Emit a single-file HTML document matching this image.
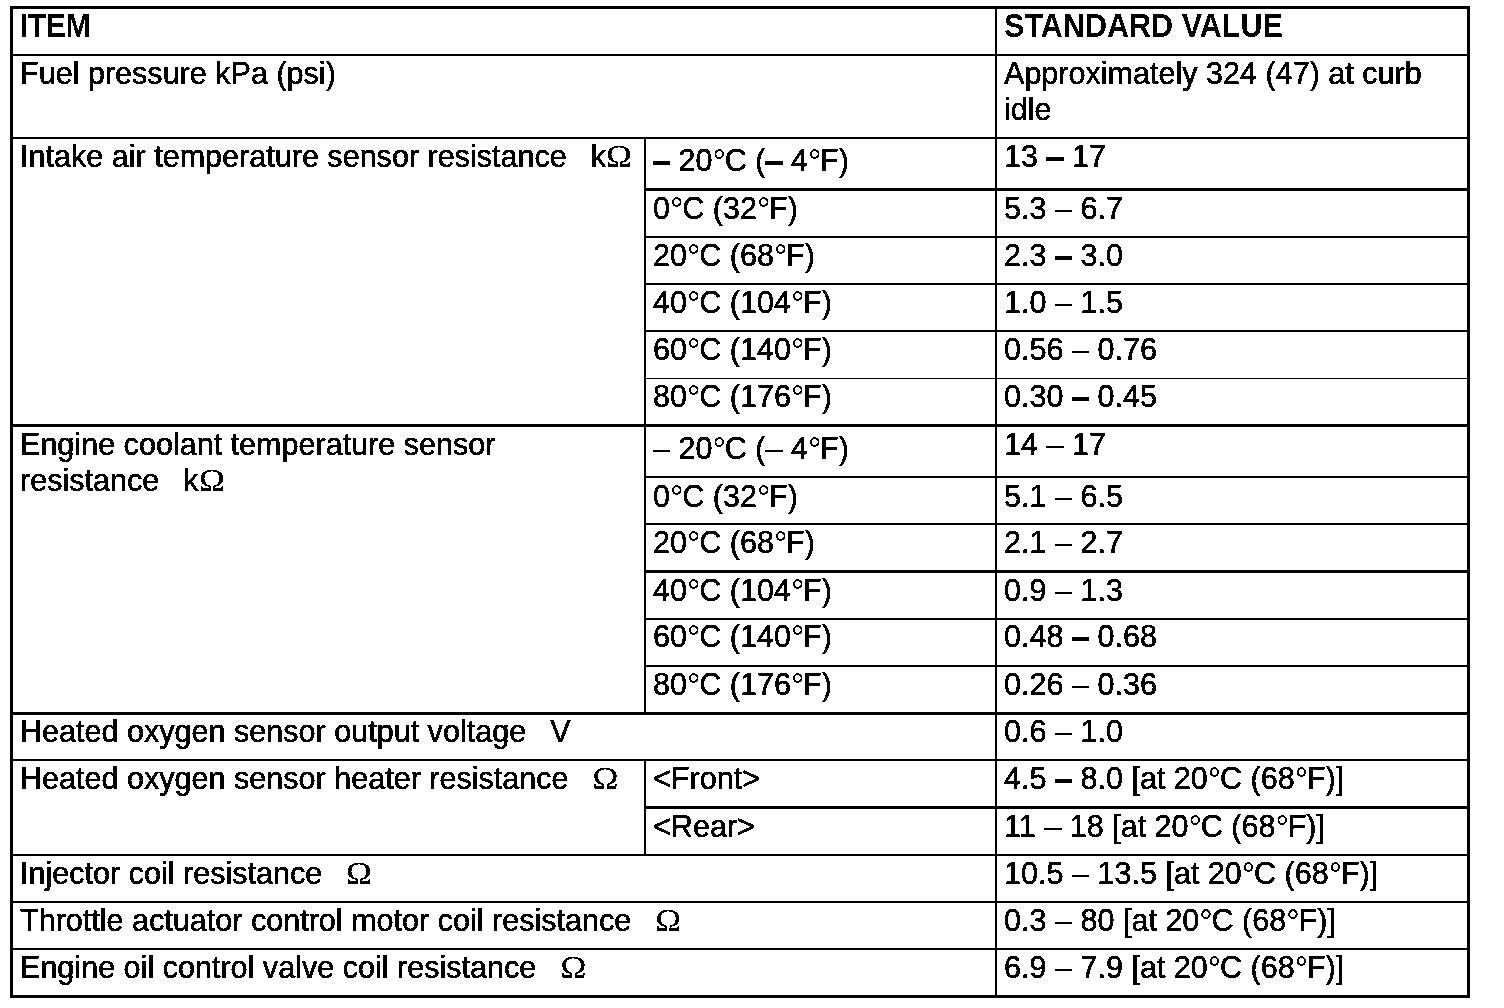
<!DOCTYPE html>
<html lang="en">
<head>
<meta charset="utf-8">
<title>Standard values</title>
<style>
html,body{margin:0;padding:0;background:#fff;}
body{width:1504px;height:1008px;position:relative;overflow:hidden;font-family:"Liberation Sans",sans-serif;color:#000;}
.l{position:absolute;background:#000;}
.t{position:absolute;white-space:pre;font-size:31.6px;line-height:36px;height:36px;transform-origin:0 0;transform:scaleX(0.967);-webkit-text-stroke:0.3px #000;}
.b{font-weight:bold;font-size:32.5px;transform:scaleX(0.94);-webkit-text-stroke:0;color:#444;}
.o{font-family:"Liberation Serif",serif;display:inline-block;transform-origin:0 50%;transform:scaleX(1.14);-webkit-text-stroke:0;}
.g{letter-spacing:-0.5px;}
.k{-webkit-text-stroke:0.75px #000;}
.n{-webkit-text-stroke:0.4px #000;}
.d{-webkit-text-stroke:0;color:#333;font-size:1.1em;line-height:1px;position:relative;top:2.5px;margin-right:-1.3px;}
#w{position:absolute;left:0;top:0;width:1504px;height:1008px;background:#fff;filter:url(#bw);}
</style>
</head>
<body>
<svg width="0" height="0" style="position:absolute"><defs><filter id="bw" x="0" y="0" width="100%" height="100%" color-interpolation-filters="sRGB"><feComponentTransfer><feFuncR type="discrete" tableValues="0 0 0 1 1"/><feFuncG type="discrete" tableValues="0 0 0 1 1"/><feFuncB type="discrete" tableValues="0 0 0 1 1"/></feComponentTransfer></filter></defs></svg>
<div id="w">
<div class="l" style="left:10px;top:6px;width:1460px;height:3px"></div>
<div class="l" style="left:10px;top:54px;width:1460px;height:2px"></div>
<div class="l" style="left:10px;top:137px;width:1460px;height:2px"></div>
<div class="l" style="left:644px;top:188px;width:826px;height:3px"></div>
<div class="l" style="left:644px;top:236px;width:826px;height:2px"></div>
<div class="l" style="left:644px;top:283px;width:826px;height:2px"></div>
<div class="l" style="left:644px;top:330px;width:826px;height:2px"></div>
<div class="l" style="left:644px;top:378px;width:826px;height:1px"></div>
<div class="l" style="left:10px;top:424px;width:1460px;height:3px"></div>
<div class="l" style="left:644px;top:476px;width:826px;height:2px"></div>
<div class="l" style="left:644px;top:523px;width:826px;height:2px"></div>
<div class="l" style="left:644px;top:570px;width:826px;height:3px"></div>
<div class="l" style="left:644px;top:618px;width:826px;height:2px"></div>
<div class="l" style="left:644px;top:665px;width:826px;height:2px"></div>
<div class="l" style="left:10px;top:712px;width:1460px;height:3px"></div>
<div class="l" style="left:10px;top:759px;width:1460px;height:2px"></div>
<div class="l" style="left:644px;top:806px;width:826px;height:3px"></div>
<div class="l" style="left:10px;top:854px;width:1460px;height:2px"></div>
<div class="l" style="left:10px;top:901px;width:1460px;height:2px"></div>
<div class="l" style="left:10px;top:948px;width:1460px;height:2px"></div>
<div class="l" style="left:10px;top:995px;width:1460px;height:3px"></div>
<div class="l" style="left:10px;top:6px;width:3px;height:992px"></div>
<div class="l" style="left:1467px;top:6px;width:3px;height:992px"></div>
<div class="l" style="left:995px;top:6px;width:2px;height:992px"></div>
<div class="l" style="left:644px;top:137px;width:2px;height:575px"></div>
<div class="l" style="left:644px;top:759px;width:2px;height:95px"></div>
<div class="t b" style="left:19.5px;top:7.74px"><span style="letter-spacing:-0.7px">ITEM</span></div>
<div class="t b" style="left:1004px;top:7.74px">STANDARD VALUE</div>
<div class="t" style="left:19.5px;top:55.05px">Fuel pressure kPa (psi)</div>
<div class="t" style="left:1004px;top:55.05px">Approximately 324 (47) at curb</div>
<div class="t" style="left:1004px;top:91.05px">idle</div>
<div class="t" style="left:19.5px;top:138.05px">Intake air temperature sensor resistance<span class="g">   </span>k<span class="o">Ω</span></div>
<div class="t" style="left:652.5px;top:142.05px"><span class="k">–</span> 20<span class="d">°</span>C (<span class="k">–</span> 4<span class="d">°</span>F)</div>
<div class="t" style="left:1004px;top:138.05px">13 <span class="k">–</span> 17</div>
<div class="t" style="left:652.5px;top:190.05px">0<span class="d">°</span>C (32<span class="d">°</span>F)</div>
<div class="t" style="left:1004px;top:190.05px">5.3 <span class="n">–</span> 6.7</div>
<div class="t" style="left:652.5px;top:237.05px">20<span class="d">°</span>C (68<span class="d">°</span>F)</div>
<div class="t" style="left:1004px;top:237.05px">2.3 <span class="k">–</span> 3.0</div>
<div class="t" style="left:652.5px;top:284.05px">40<span class="d">°</span>C (104<span class="d">°</span>F)</div>
<div class="t" style="left:1004px;top:284.05px">1.0 <span class="n">–</span> 1.5</div>
<div class="t" style="left:652.5px;top:331.05px">60<span class="d">°</span>C (140<span class="d">°</span>F)</div>
<div class="t" style="left:1004px;top:331.05px">0.56 <span class="n">–</span> 0.76</div>
<div class="t" style="left:652.5px;top:378.05px">80<span class="d">°</span>C (176<span class="d">°</span>F)</div>
<div class="t" style="left:1004px;top:378.05px">0.30 <span class="k">–</span> 0.45</div>
<div class="t" style="left:19.5px;top:426.05px">Engine coolant temperature sensor</div>
<div class="t" style="left:19.5px;top:462.05px">resistance<span class="g">   </span>k<span class="o">Ω</span></div>
<div class="t" style="left:652.5px;top:430.05px"><span class="n">–</span> 20<span class="d">°</span>C (<span class="n">–</span> 4<span class="d">°</span>F)</div>
<div class="t" style="left:1004px;top:426.05px">14 <span class="n">–</span> 17</div>
<div class="t" style="left:652.5px;top:478.05px">0<span class="d">°</span>C (32<span class="d">°</span>F)</div>
<div class="t" style="left:1004px;top:478.05px">5.1 <span class="n">–</span> 6.5</div>
<div class="t" style="left:652.5px;top:524.05px">20<span class="d">°</span>C (68<span class="d">°</span>F)</div>
<div class="t" style="left:1004px;top:524.05px">2.1 <span class="n">–</span> 2.7</div>
<div class="t" style="left:652.5px;top:572.05px">40<span class="d">°</span>C (104<span class="d">°</span>F)</div>
<div class="t" style="left:1004px;top:572.05px">0.9 <span class="n">–</span> 1.3</div>
<div class="t" style="left:652.5px;top:618.05px">60<span class="d">°</span>C (140<span class="d">°</span>F)</div>
<div class="t" style="left:1004px;top:618.05px">0.48 <span class="k">–</span> 0.68</div>
<div class="t" style="left:652.5px;top:666.05px">80<span class="d">°</span>C (176<span class="d">°</span>F)</div>
<div class="t" style="left:1004px;top:666.05px">0.26 <span class="n">–</span> 0.36</div>
<div class="t" style="left:19.5px;top:713.05px">Heated oxygen sensor output voltage<span class="g">   </span>V</div>
<div class="t" style="left:1004px;top:713.05px">0.6 <span class="n">–</span> 1.0</div>
<div class="t" style="left:19.5px;top:760.05px">Heated oxygen sensor heater resistance<span class="g">   </span><span class="o">Ω</span></div>
<div class="t" style="left:652.5px;top:760.05px">&lt;Front&gt;</div>
<div class="t" style="left:1004px;top:760.05px">4.5 <span class="k">–</span> 8.0 [at 20<span class="d">°</span>C (68<span class="d">°</span>F)]</div>
<div class="t" style="left:652.5px;top:808.05px">&lt;Rear&gt;</div>
<div class="t" style="left:1004px;top:808.05px">11 <span class="n">–</span> 18 [at 20<span class="d">°</span>C (68<span class="d">°</span>F)]</div>
<div class="t" style="left:19.5px;top:855.05px">Injector coil resistance<span class="g">   </span><span class="o">Ω</span></div>
<div class="t" style="left:1004px;top:855.05px">10.5 <span class="n">–</span> 13.5 [at 20<span class="d">°</span>C (68<span class="d">°</span>F)]</div>
<div class="t" style="left:19.5px;top:902.05px">Throttle actuator control motor coil resistance<span class="g">   </span><span class="o">Ω</span></div>
<div class="t" style="left:1004px;top:902.05px">0.3 <span class="n">–</span> 80 [at 20<span class="d">°</span>C (68<span class="d">°</span>F)]</div>
<div class="t" style="left:19.5px;top:949.05px">Engine oil control valve coil resistance<span class="g">   </span><span class="o">Ω</span></div>
<div class="t" style="left:1004px;top:949.05px">6.9 <span class="n">–</span> 7.9 [at 20<span class="d">°</span>C (68<span class="d">°</span>F)]</div>
</div>
</body>
</html>
